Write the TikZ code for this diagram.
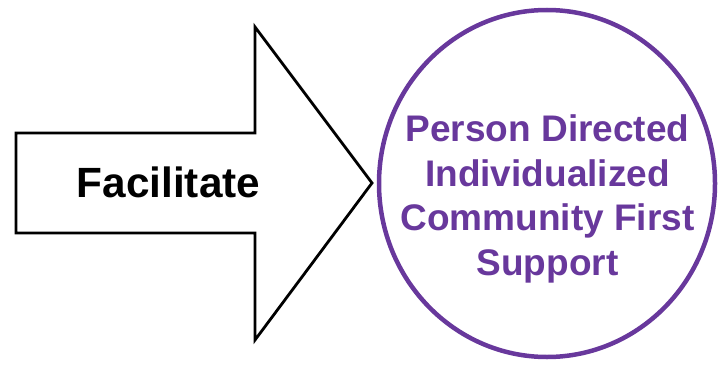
\documentclass[tikz,border=0pt]{standalone}
\usepackage{fontspec}
\setmainfont{Liberation Sans}
\definecolor{pdpurple}{RGB}{104,56,156}
\tikzset{
  arrowshape/.style={draw=black, line width=2.8pt, line join=miter, fill=white},
  goalcircle/.style={draw=pdpurple, line width=4.5pt},
  arrowtext/.style={font=\fontsize{42.3}{50}\selectfont\bfseries, text=black, inner sep=0pt},
  goaltext/.style={font=\fontsize{37}{44.5}\selectfont\bfseries, text=pdpurple, inner sep=0pt, align=center}
}
\begin{document}
\begin{tikzpicture}[x=1pt,y=1pt]
\useasboundingbox (0,0) rectangle (719,365);
% big arrow
\draw[arrowshape] (16,232) -- (255,232) -- (255,338) -- (372,182) -- (255,25) -- (255,132) -- (16,132) -- cycle;
\coordinate (tip) at (372,182);
\node[arrowtext, anchor=base] (fac) at (168.5,168) {Facilitate};
% circle
\draw[goalcircle] (547,181.5) ellipse [x radius=168, y radius=173.5];
\node[goaltext, anchor=north] (goal) at (547.5,250.5) {Person Directed\\Individualized\\Community First\\Support};
\end{tikzpicture}
\end{document}
